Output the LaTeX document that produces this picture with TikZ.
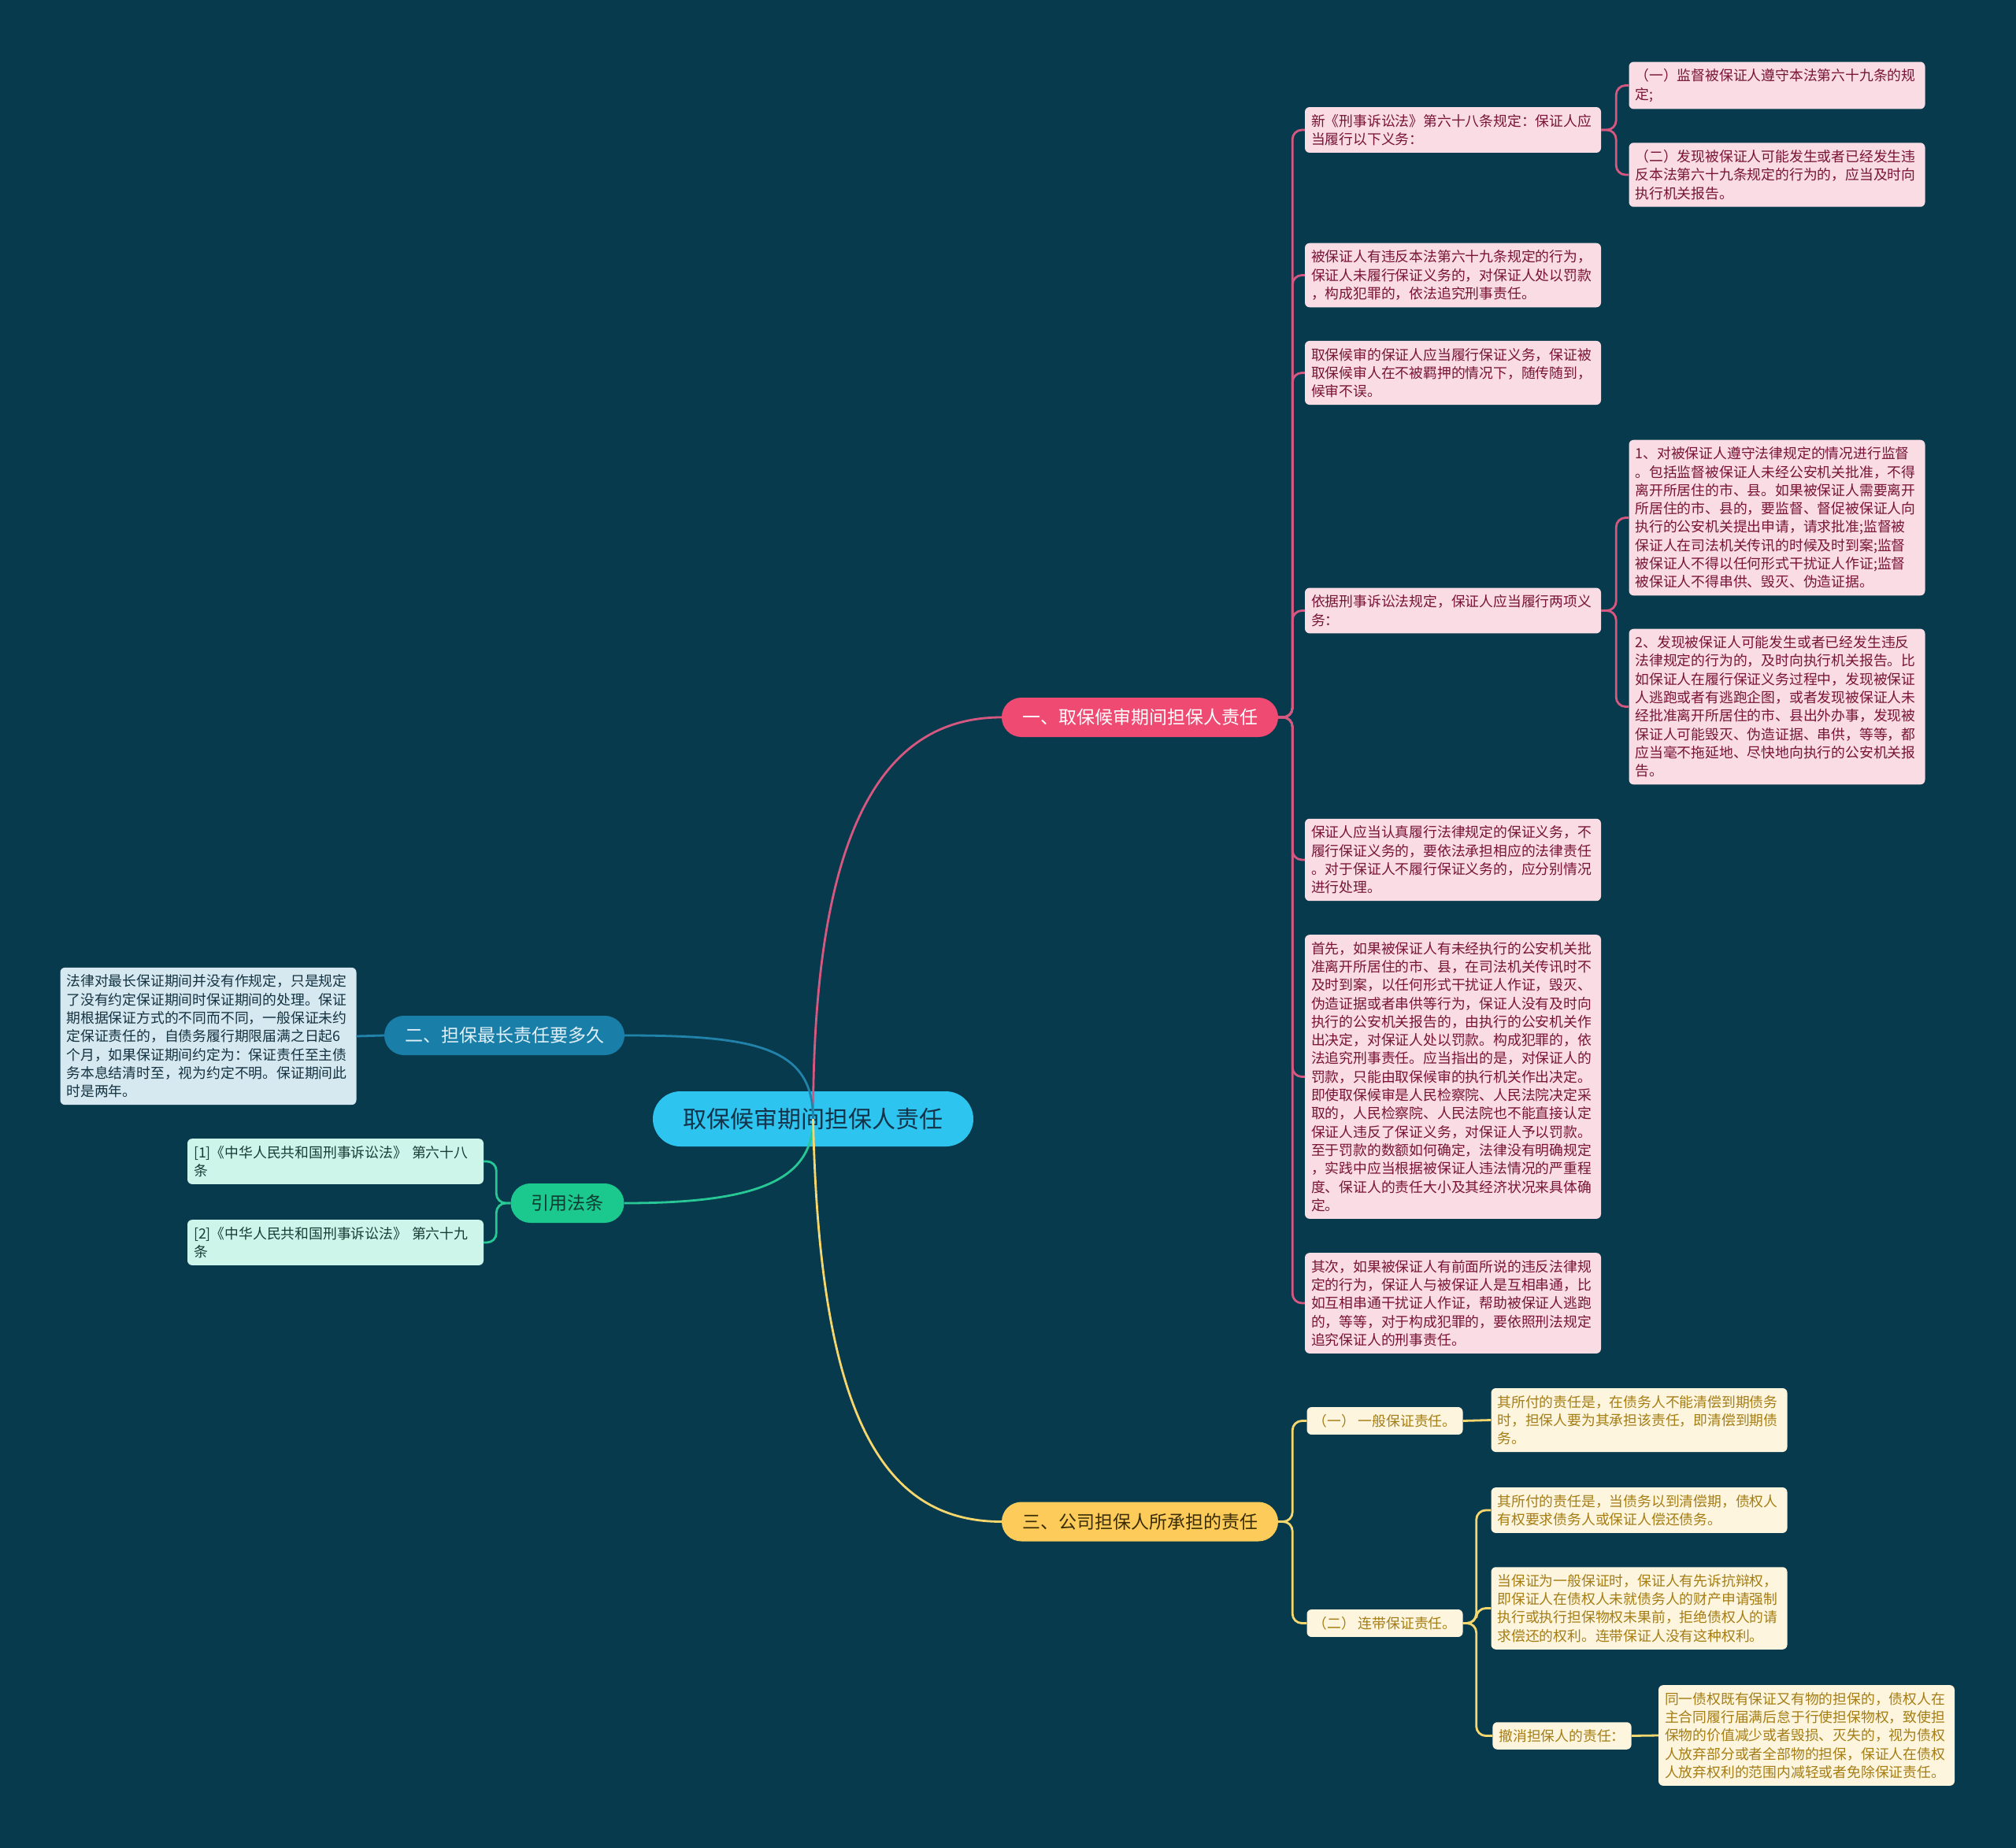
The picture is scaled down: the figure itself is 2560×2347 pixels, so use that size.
\documentclass[tikz,border=0pt]{standalone}
\usepackage{fontspec}
\setmainfont{Noto Sans CJK SC}

\definecolor{bgcol}{RGB}{8,58,77}
\definecolor{rootfill}{RGB}{46,196,240}
\definecolor{pinkfill}{RGB}{238,74,114}
\definecolor{bluefill}{RGB}{26,127,168}
\definecolor{greenfill}{RGB}{27,201,142}
\definecolor{yellowfill}{RGB}{252,203,90}
\definecolor{pinkline}{RGB}{214,88,128}
\definecolor{blueline}{RGB}{33,130,170}
\definecolor{greenline}{RGB}{40,200,150}
\definecolor{yellowline}{RGB}{245,215,110}
\definecolor{pinkleaf}{RGB}{250,220,228}
\definecolor{pinktext}{RGB}{120,20,55}
\definecolor{blueleaf}{RGB}{214,233,240}
\definecolor{bluetext}{RGB}{20,50,65}
\definecolor{greenleaf}{RGB}{205,245,233}
\definecolor{greentext}{RGB}{25,60,55}
\definecolor{yellowleaf}{RGB}{253,245,222}
\definecolor{yellowtext}{RGB}{165,125,20}

\begin{document}
\begin{tikzpicture}[
  x=1pt,y=-1pt,
  root/.style={fill=rootfill,text={rgb,255:red,19;green,51;blue,74},rounded corners=35pt,
    minimum width=407pt,minimum height=70pt,font=\fontsize{30}{36}\selectfont},
  branch/.style={rounded corners=25pt,minimum height=50pt,inner xsep=26pt,
    font=\fontsize{23}{28}\selectfont},
  leaf/.style={rounded corners=6pt,inner xsep=8pt,inner ysep=9pt,align=left,
    font=\fontsize{17.8}{23.3}\selectfont},
  note/.style={leaf,text width=360pt},
  pinkbox/.style={fill=pinkleaf,text=pinktext},
  bluebox/.style={fill=blueleaf,text=bluetext},
  greenbox/.style={fill=greenleaf,text=greentext},
  yellowbox/.style={fill=yellowleaf,text=yellowtext},
  link/.style={line width=2.8pt,rounded corners=12pt}
]
  \fill[bgcol] (0,0) rectangle (2560,2347);

  \node[root] (root) at (1032.5,1421) {取保候审期间担保人责任};
  \node[branch,fill=pinkfill,text=white] (b1) at (1447.5,911) {一、取保候审期间担保人责任};
  \node[branch,fill=bluefill,text={rgb,255:red,225;green,240;blue,248}] (b2) at (640.5,1315) {二、担保最长责任要多久};
  \node[branch,fill=greenfill,text={rgb,255:red,13;green,59;blue,48}] (b3) at (720.5,1528) {引用法条};
  \node[branch,fill=yellowfill,text={rgb,255:red,58;green,45;blue,5}] (b4) at (1447.5,1932.5) {三、公司担保人所承担的责任};

  \node[note,pinkbox] (c1) at (1845,165) {新《刑事诉讼法》第六十八条规定：保证人应\\当履行以下义务：};
  \node[note,pinkbox] (c2) at (1845,349.5) {被保证人有违反本法第六十九条规定的行为，\\保证人未履行保证义务的，对保证人处以罚款\\，构成犯罪的，依法追究刑事责任。};
  \node[note,pinkbox] (c3) at (1845,473.5) {取保候审的保证人应当履行保证义务，保证被\\取保候审人在不被羁押的情况下，随传随到，\\候审不误。};
  \node[note,pinkbox] (c4) at (1845,775.5) {依据刑事诉讼法规定，保证人应当履行两项义\\务：};
  \node[note,pinkbox] (c5) at (1845,1092) {保证人应当认真履行法律规定的保证义务，不\\履行保证义务的，要依法承担相应的法律责任\\。对于保证人不履行保证义务的，应分别情况\\进行处理。};
  \node[note,pinkbox] (c6) at (1845,1367.5) {首先，如果被保证人有未经执行的公安机关批\\准离开所居住的市、县，在司法机关传讯时不\\及时到案，以任何形式干扰证人作证，毁灭、\\伪造证据或者串供等行为，保证人没有及时向\\执行的公安机关报告的，由执行的公安机关作\\出决定，对保证人处以罚款。构成犯罪的，依\\法追究刑事责任。应当指出的是，对保证人的\\罚款，只能由取保候审的执行机关作出决定。\\即使取保候审是人民检察院、人民法院决定采\\取的，人民检察院、人民法院也不能直接认定\\保证人违反了保证义务，对保证人予以罚款。\\至于罚款的数额如何确定，法律没有明确规定\\，实践中应当根据被保证人违法情况的严重程\\度、保证人的责任大小及其经济状况来具体确\\定。};
  \node[note,pinkbox] (c7) at (1845,1655) {其次，如果被保证人有前面所说的违反法律规\\定的行为，保证人与被保证人是互相串通，比\\如互相串通干扰证人作证，帮助被保证人逃跑\\的，等等，对于构成犯罪的，要依照刑法规定\\追究保证人的刑事责任。};

  \node[note,pinkbox] (g1) at (2256.5,108.5) {（一）监督被保证人遵守本法第六十九条的规\\定;};
  \node[note,pinkbox] (g2) at (2256.5,222) {（二）发现被保证人可能发生或者已经发生违\\反本法第六十九条规定的行为的，应当及时向\\执行机关报告。};
  \node[note,pinkbox] (g3) at (2256.5,657.5) {1、对被保证人遵守法律规定的情况进行监督\\。包括监督被保证人未经公安机关批准，不得\\离开所居住的市、县。如果被保证人需要离开\\所居住的市、县的，要监督、督促被保证人向\\执行的公安机关提出申请，请求批准;监督被\\保证人在司法机关传讯的时候及时到案;监督\\被保证人不得以任何形式干扰证人作证;监督\\被保证人不得串供、毁灭、伪造证据。};
  \node[note,pinkbox] (g4) at (2256.5,897.5) {2、发现被保证人可能发生或者已经发生违反\\法律规定的行为的，及时向执行机关报告。比\\如保证人在履行保证义务过程中，发现被保证\\人逃跑或者有逃跑企图，或者发现被保证人未\\经批准离开所居住的市、县出外办事，发现被\\保证人可能毁灭、伪造证据、串供，等等，都\\应当毫不拖延地、尽快地向执行的公安机关报\\告。};

  \node[note,bluebox] (n2) at (264.5,1316) {法律对最长保证期间并没有作规定，只是规定\\了没有约定保证期间时保证期间的处理。保证\\期根据保证方式的不同而不同，一般保证未约\\定保证责任的，自债务履行期限届满之日起6\\个月，如果保证期间约定为：保证责任至主债\\务本息结清时至，视为约定不明。保证期间此\\时是两年。};

  \node[note,greenbox] (f1) at (426,1475) {[1]《中华人民共和国刑事诉讼法》 第六十八\\条};
  \node[note,greenbox] (f2) at (426,1578) {[2]《中华人民共和国刑事诉讼法》 第六十九\\条};

  \node[leaf,yellowbox] (d1) at (1758.5,1804.5) {（一） 一般保证责任。};
  \node[leaf,yellowbox] (d2) at (1758.5,2061.5) {（二） 连带保证责任。};
  \node[note,yellowbox] (h1) at (2081.5,1803.5) {其所付的责任是，在债务人不能清偿到期债务\\时，担保人要为其承担该责任，即清偿到期债\\务。};
  \node[note,yellowbox] (e1) at (2081.5,1918) {其所付的责任是，当债务以到清偿期，债权人\\有权要求债务人或保证人偿还债务。};
  \node[note,yellowbox] (e2) at (2081.5,2042.5) {当保证为一般保证时，保证人有先诉抗辩权，\\即保证人在债权人未就债务人的财产申请强制\\执行或执行担保物权未果前，拒绝债权人的请\\求偿还的权利。连带保证人没有这种权利。};
  \node[leaf,yellowbox] (e3) at (1983.5,2204.5) {撤消担保人的责任：};
  \node[note,yellowbox] (h3) at (2294,2204) {同一债权既有保证又有物的担保的，债权人在\\主合同履行届满后怠于行使担保物权，致使担\\保物的价值减少或者毁损、灭失的，视为债权\\人放弃部分或者全部物的担保，保证人在债权\\人放弃权利的范围内减轻或者免除保证责任。};

  \coordinate (j1) at ([xshift=18pt]b1.east);
  \coordinate (j3) at ([xshift=-18pt]b3.west);
  \coordinate (j4) at ([xshift=18pt]b4.east);
  \coordinate (jc1) at ([xshift=19pt]c1.east);
  \coordinate (jc4) at ([xshift=19pt]c4.east);
  \coordinate (jd2) at ([xshift=17pt]d2.east);

  \draw[link,pinkline] (root.center) .. controls +(0,-370) and +(-150,0) .. (b1.west);
  \draw[link,blueline] (b2.east) .. controls +(167,0) and +(0,-91) .. (root.center);
  \draw[link,greenline] (b3.east) .. controls +(167,0) and +(0,79) .. (root.center);
  \draw[link,yellowline] (root.center) .. controls +(8,380) and +(-150,0) .. (b4.west);

  \draw[link,pinkline] (b1.east) -- (j1) |- (c1.west);
  \draw[link,pinkline] (b1.east) -- (j1) |- (c2.west);
  \draw[link,pinkline] (b1.east) -- (j1) |- (c3.west);
  \draw[link,pinkline] (b1.east) -- (j1) |- (c4.west);
  \draw[link,pinkline] (b1.east) -- (j1) |- (c5.west);
  \draw[link,pinkline] (b1.east) -- (j1) |- (c6.west);
  \draw[link,pinkline] (b1.east) -- (j1) |- (c7.west);
  \draw[link,pinkline] (c1.east) -- (jc1) |- (g1.west);
  \draw[link,pinkline] (c1.east) -- (jc1) |- (g2.west);
  \draw[link,pinkline] (c4.east) -- (jc4) |- (g3.west);
  \draw[link,pinkline] (c4.east) -- (jc4) |- (g4.west);

  \draw[link,blueline] (b2.west) -- (n2.east);
  \draw[link,greenline] (b3.west) -- (j3) |- (f1.east);
  \draw[link,greenline] (b3.west) -- (j3) |- (f2.east);

  \draw[link,yellowline] (b4.east) -- (j4) |- (d1.west);
  \draw[link,yellowline] (b4.east) -- (j4) |- (d2.west);
  \draw[link,yellowline] (d1.east) -- (h1.west);
  \draw[link,yellowline] (d2.east) -- (jd2) |- (e1.west);
  \draw[link,yellowline] (d2.east) -- (jd2) |- (e2.west);
  \draw[link,yellowline] (d2.east) -- (jd2) |- (e3.west);
  \draw[link,yellowline] (e3.east) -- (h3.west);
\end{tikzpicture}
\end{document}
